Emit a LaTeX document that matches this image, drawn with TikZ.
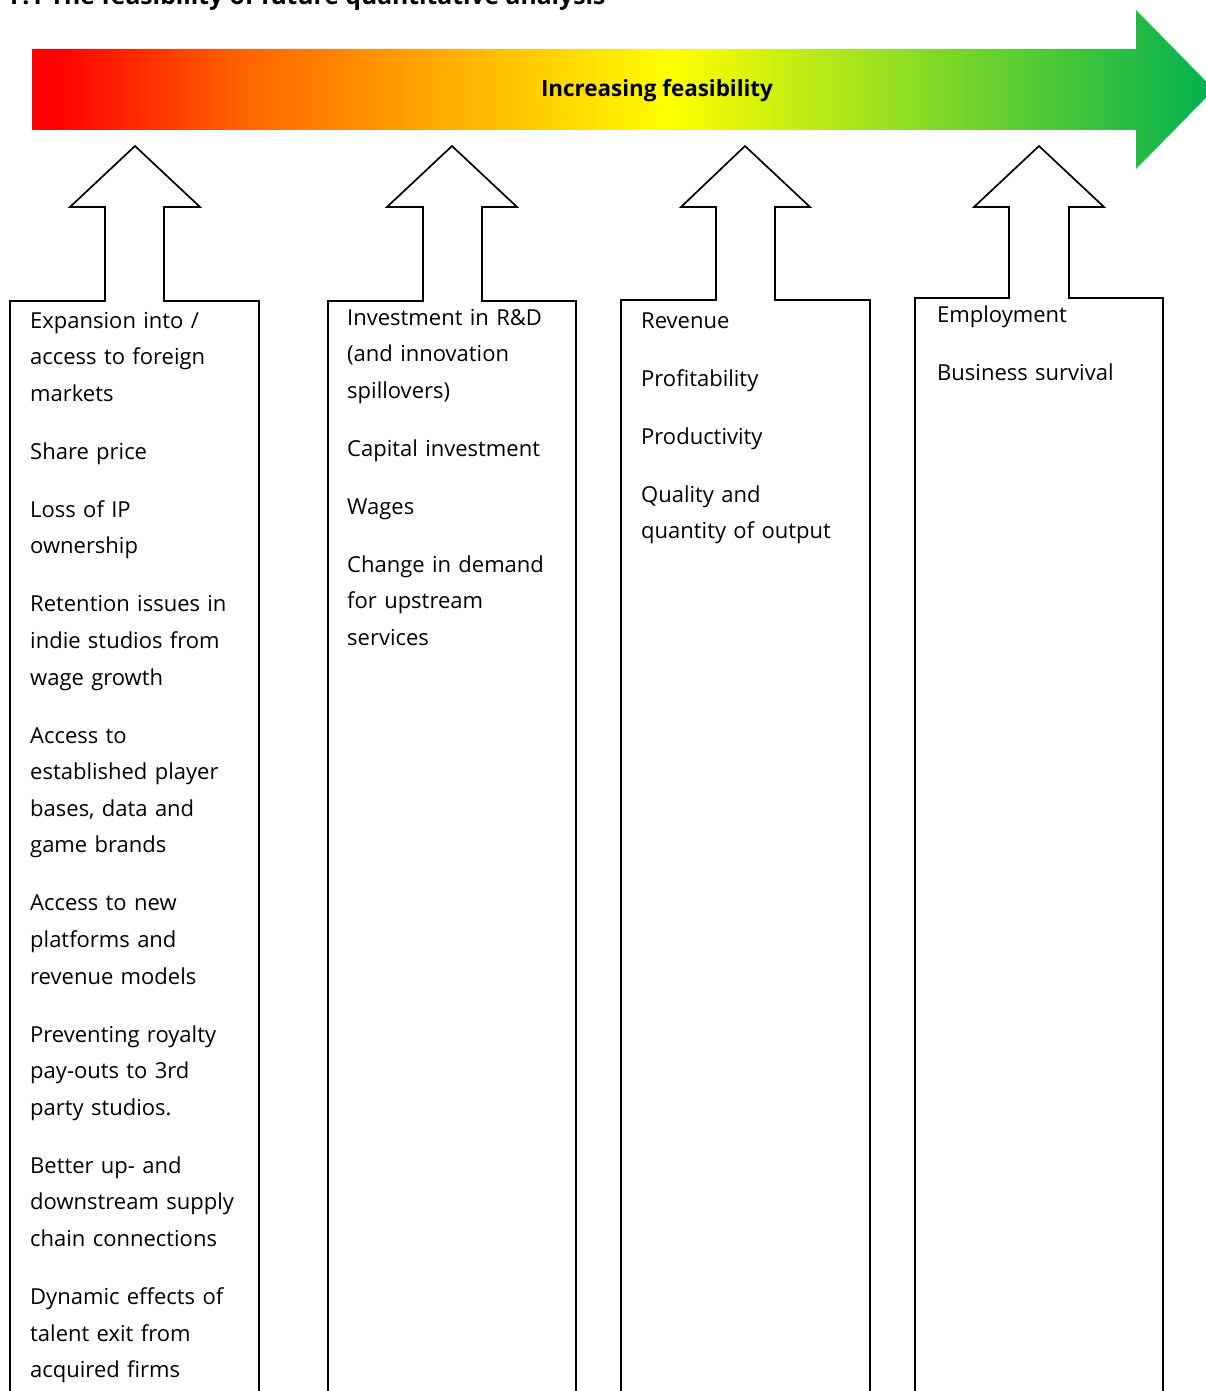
\documentclass[tikz,border=0pt]{standalone}
\usepackage{fontspec}
\setmainfont{Open Sans}
\definecolor{fred}{RGB}{255,0,0}
\definecolor{forange}{RGB}{255,100,0}
\definecolor{fyellow}{RGB}{255,255,0}
\definecolor{fgreen}{RGB}{0,176,80}
\pgfdeclarehorizontalshading{feasibility}{100bp}{color(0bp)=(fred); color(26bp)=(fred); color(34bp)=(forange); color(52bp)=(fyellow); color(75bp)=(fgreen); color(100bp)=(fgreen)}
\begin{document}
\begin{tikzpicture}[x=1pt,y=-1pt,outline/.style={line width=1.7pt, line join=miter},item/.style={anchor=base west, inner sep=0pt, text width=260pt, align=left, font=\fontsize{22}{36.6}\selectfont},heading/.style={font=\bfseries\fontsize{22.4}{26}\selectfont, inner sep=0pt},banner/.style={shading=feasibility}]
\useasboundingbox (0,0) rectangle (1206,1391);
\node[heading, font=\bfseries\fontsize{24.7}{28}\selectfont, anchor=base west] (title) at (10,4.5) {F.1 The feasibility of future quantitative analysis};
\shade[banner] (32,49) -- (1136,49) -- (1136,10) -- (1214,89.5) -- (1136,169) -- (1136,130) -- (32,130) -- cycle;
\node[heading, anchor=base] (feasibility) at (657,97) {Increasing feasibility};
\begin{scope}[shift={(10,0)}]
\draw[outline] (0,1400) -- (0,301) -- (95,301) -- (95,207) -- (60,207) -- (125,146) -- (190,207) -- (154,207) -- (154,301) -- (249,301) -- (249,1400);
\node[item] (markets) at (20,328) {Expansion into /\\ access to foreign\\ markets\\[21.4pt] Share price\\[21.4pt] Loss of IP\\ ownership\\[21.4pt] Retention issues in\\ indie studios from\\ wage growth\\[21.4pt] Access to\\ established player\\ bases, data and\\ game brands\\[21.4pt] Access to new\\ platforms and\\ revenue models\\[21.4pt] Preventing royalty\\ pay-outs to 3rd\\ party studios.\\[21.4pt] Better up- and\\ downstream supply\\ chain connections\\[21.4pt] Dynamic effects of\\ talent exit from\\ acquired firms};
\end{scope}
\begin{scope}[shift={(328,0)}]
\draw[outline] (0,1400) -- (0,301) -- (95,301) -- (95,207) -- (59,207) -- (124,146) -- (189,207) -- (154,207) -- (154,301) -- (248,301) -- (248,1400);
\node[item] (investment) at (19,325) {Investment in R\&D\\ (and innovation\\ spillovers)\\[21.4pt] Capital investment\\[21.4pt] Wages\\[21.4pt] Change in demand\\ for upstream\\ services};
\end{scope}
\begin{scope}[shift={(621,0)}]
\draw[outline] (0,1400) -- (0,300) -- (95,300) -- (95,207) -- (60,207) -- (124,146) -- (189,207) -- (154,207) -- (154,300) -- (249,300) -- (249,1400);
\node[item] (revenue) at (20,328) {Revenue\\[21.4pt] Profitability\\[21.4pt] Productivity\\[21.4pt] Quality and\\ quantity of output};
\end{scope}
\begin{scope}[shift={(915,0)}]
\draw[outline] (0,1400) -- (0,298) -- (94,298) -- (94,207) -- (59,207) -- (124,146) -- (189,207) -- (154,207) -- (154,298) -- (248,298) -- (248,1400);
\node[item] (employment) at (22,322) {Employment\\[21.4pt] Business survival};
\end{scope}
\end{tikzpicture}
\end{document}
